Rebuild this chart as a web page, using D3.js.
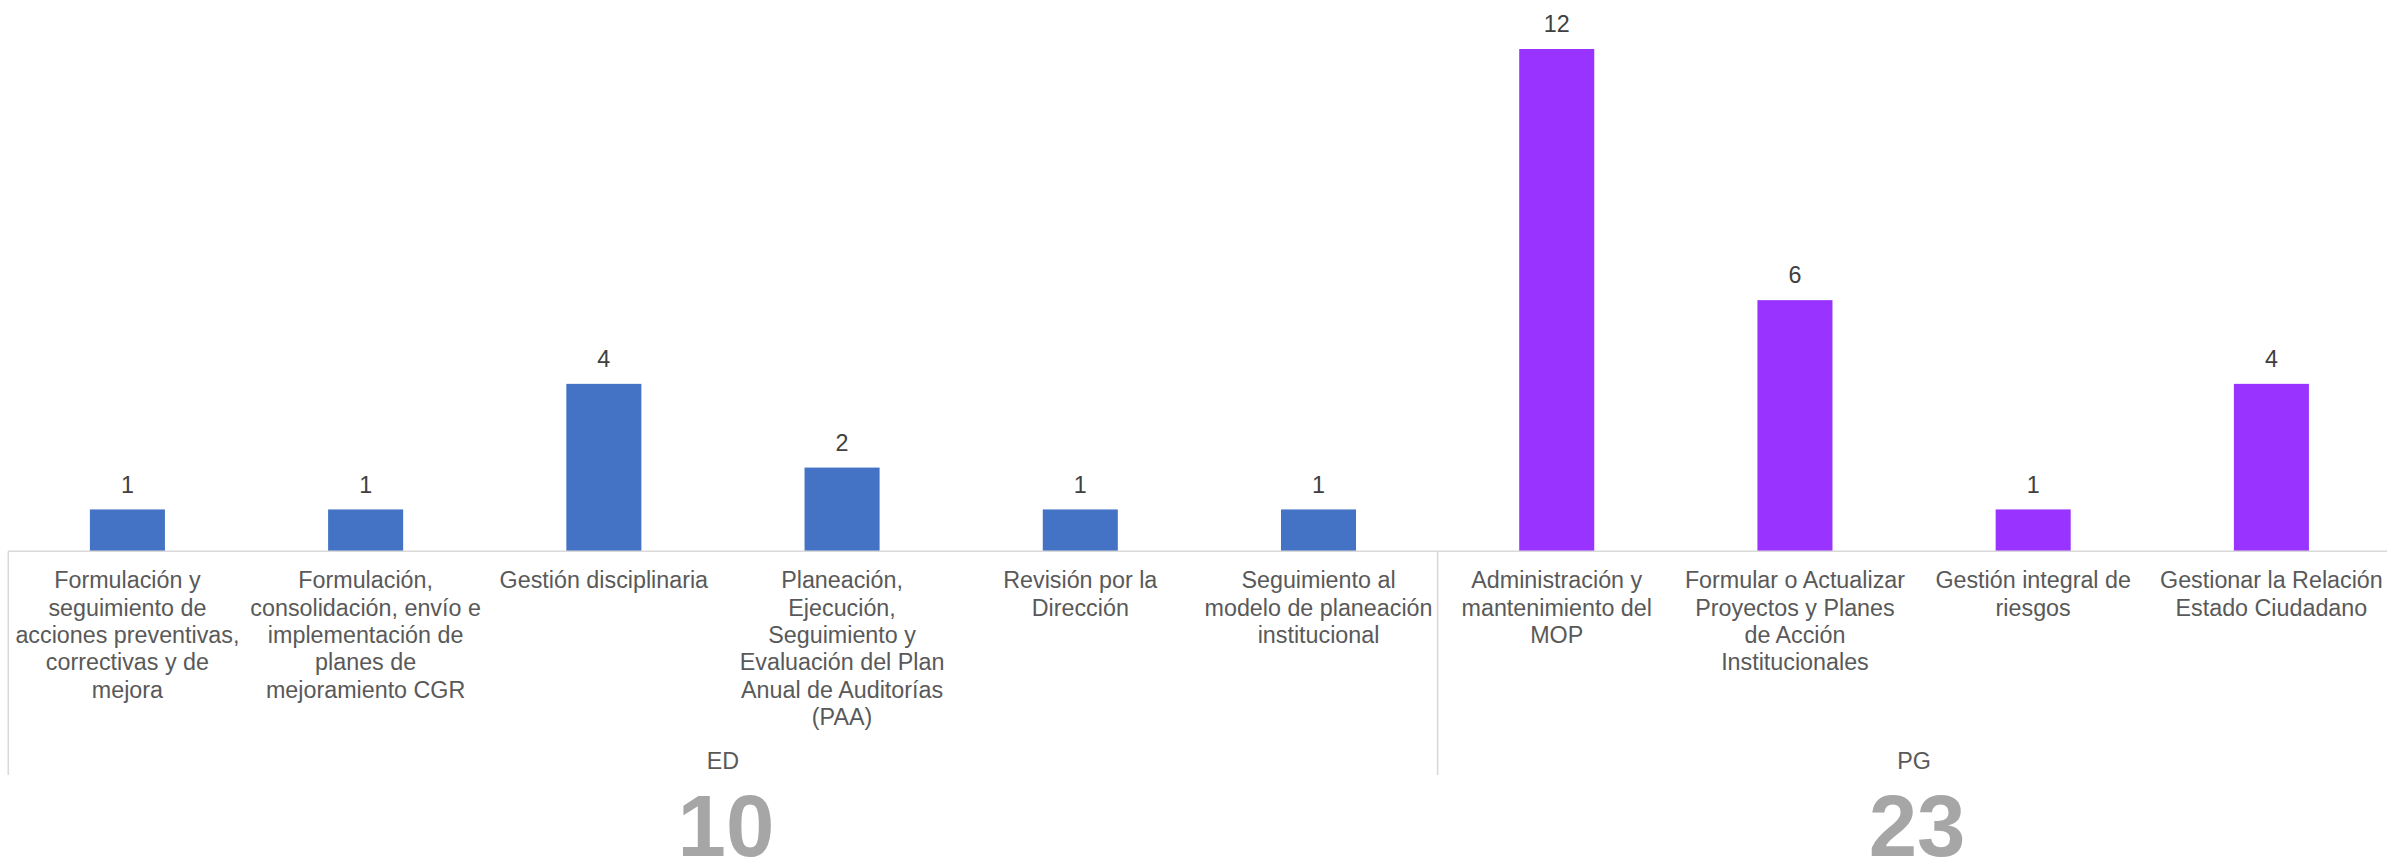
<!DOCTYPE html>
<html>
<head>
<meta charset="utf-8">
<script src="https://cdn.jsdelivr.net/npm/d3@7"></script>
<style>
  html, body { margin: 0; padding: 0; background: #ffffff; }
  svg { display: block; }
</style>
</head>
<body>
<svg id="chart" width="2387" height="857"></svg>
<script>
// ---- Data ----
const categories = [
  "Formulación y seguimiento de acciones preventivas, correctivas y de mejora",
  "Formulación, consolidación, envío e implementación de planes de mejoramiento CGR",
  "Gestión disciplinaria",
  "Planeación, Ejecución, Seguimiento y Evaluación del Plan Anual de Auditorías (PAA)",
  "Revisión por la Dirección",
  "Seguimiento al modelo de planeación institucional",
  "Administración y mantenimiento del MOP",
  "Formular o Actualizar Proyectos y Planes de Acción Institucionales",
  "Gestión integral de riesgos",
  "Gestionar la Relación Estado Ciudadano"
];
const categoryLines = [
  ["Formulación y", "seguimiento de", "acciones preventivas,", "correctivas y de", "mejora"],
  ["Formulación,", "consolidación, envío e", "implementación de", "planes de", "mejoramiento CGR"],
  ["Gestión disciplinaria"],
  ["Planeación,", "Ejecución,", "Seguimiento y", "Evaluación del Plan", "Anual de Auditorías", "(PAA)"],
  ["Revisión por la", "Dirección"],
  ["Seguimiento al", "modelo de planeación", "institucional"],
  ["Administración y", "mantenimiento del", "MOP"],
  ["Formular o Actualizar", "Proyectos y Planes", "de Acción", "Institucionales"],
  ["Gestión integral de", "riesgos"],
  ["Gestionar la Relación", "Estado Ciudadano"]
];
const groups = ["ED", "ED", "ED", "ED", "ED", "ED", "PG", "PG", "PG", "PG"];
const values = [1, 1, 4, 2, 1, 1, 12, 6, 1, 4];
const groupNames = ["ED", "PG"];
const groupTotals = [10, 23];
const groupColors = { ED: "#4472C4", PG: "#9933FF" };

// ---- Layout ----
const svg = d3.select("#chart");
const baseline = 551.3;
const x = d3.scaleBand().domain(categories).range([8.3, 2390.5]).padding(0);
const y = d3.scaleLinear().domain([0, 12]).range([baseline, 49]);
const barW = x.bandwidth() * 0.315;

const fontFam = "'Liberation Sans', Arial, sans-serif";

// bars
svg.append("g").selectAll("rect")
  .data(categories)
  .join("rect")
  .attr("x", (d) => x(d) + x.bandwidth() / 2 - barW / 2)
  .attr("y", (d, i) => y(values[i]))
  .attr("width", barW)
  .attr("height", (d, i) => y(0) - y(values[i]))
  .attr("fill", (d, i) => groupColors[groups[i]]);

// data labels
svg.append("g").selectAll("text")
  .data(categories)
  .join("text")
  .attr("x", (d) => x(d) + x.bandwidth() / 2)
  .attr("y", (d, i) => y(values[i]) - 16.7)
  .attr("text-anchor", "middle")
  .attr("font-family", fontFam)
  .attr("font-size", 23.3)
  .attr("fill", "#404040")
  .text((d, i) => values[i]);

// axis line
const axisG = svg.append("g");
axisG.append("line")
  .attr("x1", x.range()[0]).attr("x2", x.range()[1])
  .attr("y1", baseline).attr("y2", baseline)
  .attr("stroke", "#d9d9d9").attr("stroke-width", 1.6);

// group extents & separators
const groupExtents = groupNames.map((g) => {
  const cats = categories.filter((c, i) => groups[i] === g);
  return [x(cats[0]), x(cats[cats.length - 1]) + x.bandwidth()];
});
const sepXs = [groupExtents[0][0], ...groupExtents.map((e) => e[1])];
axisG.selectAll("line.sep")
  .data(sepXs)
  .join("line")
  .attr("class", "sep")
  .attr("x1", (d) => d).attr("x2", (d) => d)
  .attr("y1", baseline).attr("y2", 775)
  .attr("stroke", "#d9d9d9").attr("stroke-width", 1.6);

// category labels
const labelG = svg.append("g")
  .attr("font-family", fontFam)
  .attr("font-size", 23.3)
  .attr("fill", "#595959")
  .attr("text-anchor", "middle");
labelG.selectAll("text")
  .data(categories)
  .join("text")
  .attr("x", (d) => x(d) + x.bandwidth() / 2)
  .attr("y", 588.3)
  .each(function (d, i) {
    d3.select(this).selectAll("tspan")
      .data(categoryLines[i])
      .join("tspan")
      .attr("x", x(d) + x.bandwidth() / 2)
      .attr("dy", (t, j) => (j === 0 ? 0 : 27.3))
      .text((t) => t);
  });

// group labels
svg.append("g").selectAll("text")
  .data(groupNames)
  .join("text")
  .attr("x", (d, i) => (groupExtents[i][0] + groupExtents[i][1]) / 2)
  .attr("y", 769)
  .attr("text-anchor", "middle")
  .attr("font-family", fontFam)
  .attr("font-size", 23.3)
  .attr("fill", "#595959")
  .text((d) => d);

// group totals
svg.append("g").selectAll("text")
  .data(groupNames)
  .join("text")
  .attr("x", (d, i) => (groupExtents[i][0] + groupExtents[i][1]) / 2 + 3)
  .attr("y", 856)
  .attr("text-anchor", "middle")
  .attr("font-family", fontFam)
  .attr("font-weight", "bold")
  .attr("font-size", 87)
  .attr("fill", "#a6a6a6")
  .text((d, i) => groupTotals[i]);
</script>
</body>
</html>
